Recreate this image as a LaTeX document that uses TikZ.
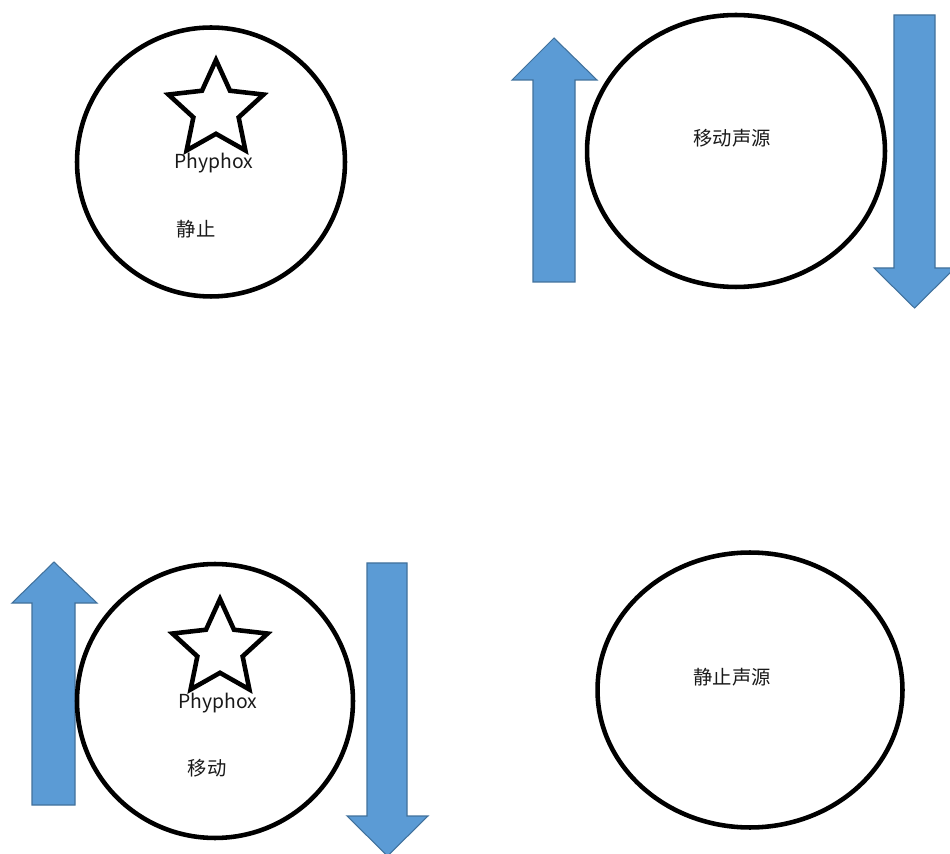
\documentclass[tikz,border=0pt]{standalone}
\usepackage{fontspec}
\setmainfont{Noto Sans CJK SC}
\usepackage{tikz}
\usetikzlibrary{shapes.geometric, positioning}
\definecolor{arrowfill}{HTML}{5B9BD5}
\definecolor{arrowline}{HTML}{41719C}
\tikzstyle{disc} = [ellipse,
draw=black,
line width=2.6pt,
inner sep=0pt]
\tikzstyle{phone} = [star,
star points=5,
star point ratio=2.1,
minimum size=2cm,
inner sep=0pt,
draw=black,
line width=2.6pt]
\tikzstyle{label} = [font=\fontsize{11pt}{13pt}\selectfont, text=black!90, inner sep=0pt]
\tikzstyle{blockarrow} = [fill=arrowfill, draw=arrowline, line width=0.6pt]

\begin{document}
\begin{tikzpicture}[x=0.02cm, y=-0.02cm]
                \useasboundingbox (0,0) rectangle (950,854);
                % top left: phone at rest
                \node (restdisc) [disc, minimum width=5.36cm, minimum height=5.38cm] at (211,162) {};
                \node (reststar) [phone] at (216,110) {};
                \node (restphy) [label] at (214,163) {Phyphox};
                \node (resttxt) [label] at (196,229) {静止};

                % top right: moving source
                \draw [blockarrow] (533,282) -- (533,80) -- (512,80) -- (554,38) -- (597,80) -- (575,80) -- (575,282) -- cycle;
                \node (movsrc) [disc, minimum width=5.96cm, minimum height=5.44cm] at (736,151) {};
                \node (movsrctxt) [label] at (732,138) {移动声源};
                \draw [blockarrow] (894,15) -- (894,268) -- (874,268) -- (914.5,308) -- (955,268) -- (935,268) -- (935,15) -- cycle;

                % bottom left: phone moving
                \draw [blockarrow] (32,805) -- (32,603) -- (12,603) -- (54,562) -- (97,603) -- (75,603) -- (75,805) -- cycle;
                \node (movdisc) [disc, minimum width=5.52cm, minimum height=5.48cm] at (215,701) {};
                \node (movstar) [phone] at (220,649) {};
                \node (movphy) [label] at (218,703) {Phyphox};
                \node (movtxt) [label] at (207,768) {移动};
                \draw [blockarrow] (367,563) -- (367,816) -- (347,816) -- (387.5,856) -- (428,816) -- (407,816) -- (407,563) -- cycle;

                % bottom right: source at rest
                \node (restsrc) [disc, minimum width=6.10cm, minimum height=5.50cm] at (750,690) {};
                \node (restsrctxt) [label] at (732,677) {静止声源};
            \end{tikzpicture}
\end{document}
